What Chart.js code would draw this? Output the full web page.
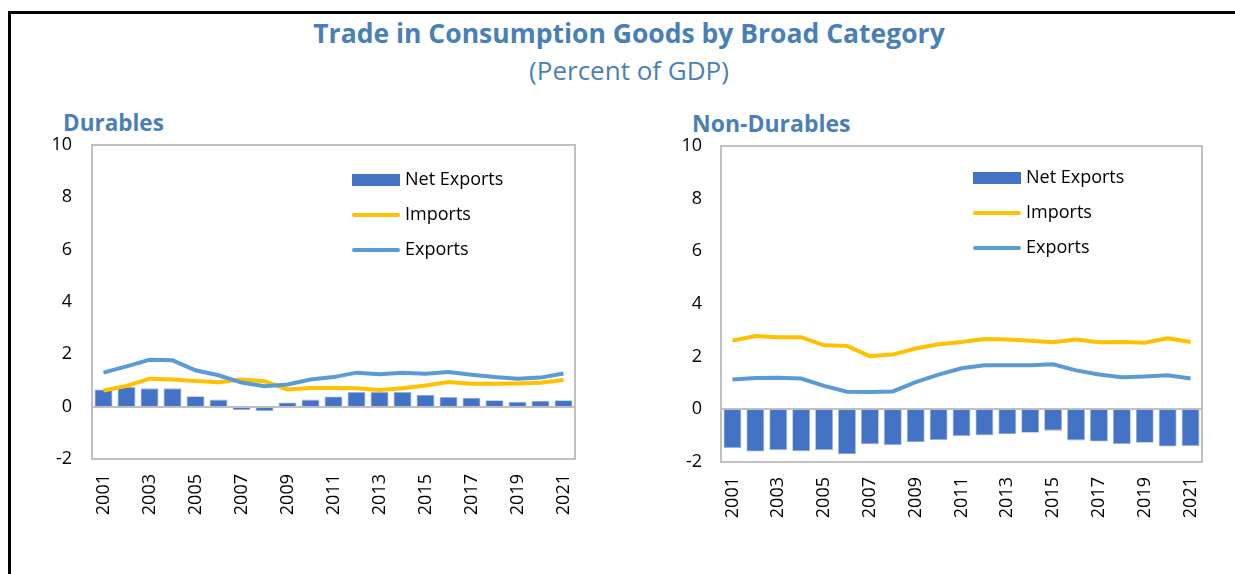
<!DOCTYPE html>
<html>
<head>
<meta charset="utf-8">
<script src="https://cdn.jsdelivr.net/npm/chart.js@4/dist/chart.umd.min.js"></script>
<style>
  body { margin:0; background:#fff; width:1235px; height:574px; overflow:hidden; position:relative; font-family:"Open Sans", sans-serif; }
  #frameTop { position:absolute; left:8px; top:11px; width:1227px; height:3px; background:#000; }
  #frameLeft { position:absolute; left:8px; top:11px; width:3px; height:563px; background:#000; }
  .t { position:absolute; color:#4A7FB5; white-space:nowrap; line-height:1; }
  #title { left:0; width:1258px; text-align:center; top:20px; font-size:26.5px; font-weight:bold; }
  #subtitle { left:0; width:1258px; text-align:center; top:57px; font-size:26px; }
  #durT { left:63px; top:112px; font-size:22.5px; font-weight:bold; }
  #nonT { left:692px; top:112px; font-size:23px; font-weight:bold; }
  canvas { position:absolute; }
  #c1 { left:30px; top:130px; }
  #c2 { left:660px; top:130px; }
</style>
</head>
<body>
<div id="frameTop"></div>
<div id="frameLeft"></div>
<div class="t" id="title">Trade in Consumption Goods by Broad Category</div>
<div class="t" id="subtitle">(Percent of GDP)</div>
<div class="t" id="durT">Durables</div>
<div class="t" id="nonT">Non-Durables</div>
<canvas id="c1" width="560" height="400"></canvas>
<canvas id="c2" width="560" height="400"></canvas>
<script>
const years = ["2001","2002","2003","2004","2005","2006","2007","2008","2009","2010","2011","2012","2013","2014","2015","2016","2017","2018","2019","2020","2021"];
const yTicks = [-2, 0, 2, 4, 6, 8, 10];

const durNetExports = [0.66,0.75,0.70,0.70,0.40,0.27,-0.13,-0.17,0.16,0.27,0.39,0.56,0.56,0.56,0.46,0.37,0.34,0.25,0.19,0.23,0.25];
const durImports    = [0.62,0.79,1.07,1.04,0.98,0.93,1.04,0.97,0.66,0.71,0.71,0.70,0.64,0.70,0.81,0.94,0.88,0.88,0.89,0.91,1.02];
const durExports    = [1.30,1.54,1.79,1.77,1.39,1.20,0.92,0.78,0.85,1.04,1.13,1.30,1.24,1.30,1.26,1.32,1.22,1.13,1.07,1.11,1.27];

const nonNetExports = [-1.47,-1.60,-1.55,-1.59,-1.55,-1.71,-1.33,-1.36,-1.25,-1.17,-1.01,-0.99,-0.95,-0.89,-0.81,-1.18,-1.22,-1.32,-1.27,-1.41,-1.39];
const nonImports    = [2.61,2.78,2.74,2.74,2.43,2.41,2.02,2.08,2.31,2.47,2.56,2.67,2.65,2.60,2.55,2.65,2.55,2.56,2.53,2.70,2.56];
const nonExports    = [1.13,1.19,1.20,1.17,0.89,0.67,0.66,0.68,1.03,1.32,1.56,1.67,1.67,1.67,1.71,1.48,1.32,1.22,1.25,1.29,1.17];

const BAR = '#4472C4', IMP = '#FFC000', EXP = '#5B9BD5', GRID = '#BFBFBF';

const framePlugin = {
  id: 'frameBox',
  beforeDatasetsDraw(chart) {
    const {ctx, chartArea:a} = chart;
    ctx.save();
    ctx.strokeStyle = GRID; ctx.lineWidth = 2;
    ctx.strokeRect(a.left, a.top, a.right - a.left, a.bottom - a.top);
    ctx.restore();
  },
  afterDatasetsDraw(chart) {
    const {ctx, chartArea:a, scales} = chart;
    const y0 = Math.round(scales.y.getPixelForValue(0));
    ctx.save();
    ctx.strokeStyle = GRID; ctx.lineWidth = 2;
    ctx.beginPath(); ctx.moveTo(a.left, y0); ctx.lineTo(a.right, y0); ctx.stroke();
    ctx.restore();
  }
};

const legendPlugin = {
  id: 'boxLegend',
  afterDraw(chart, args, opts) {
    const {ctx, chartArea:a} = chart;
    ctx.save();
    ctx.font = '18px "Open Sans", sans-serif';
    ctx.textBaseline = 'middle';
    ctx.textAlign = 'left';
    [0, 1, 2].forEach((i, k) => {
      const ds = chart.data.datasets[i];
      const x = a.left + opts.dx, y = a.top + opts.dy + k * 35;
      if (ds.type === 'bar') {
        ctx.fillStyle = ds.backgroundColor;
        ctx.fillRect(x, y - 6, 48, 12);
      } else {
        ctx.strokeStyle = ds.borderColor; ctx.lineWidth = 4; ctx.lineCap = 'round';
        ctx.beginPath(); ctx.moveTo(x + 2, y); ctx.lineTo(x + 46, y); ctx.stroke();
      }
      ctx.fillStyle = '#000';
      ctx.fillText(ds.label, x + 53, y);
    });
    ctx.restore();
  }
};

function makeChart(id, net, imp, exp, cfg) {
  const ch = new Chart(document.getElementById(id), {
    data: {
      labels: years,
      datasets: [
        { type:'bar', label:'Net Exports', data:net, backgroundColor:BAR, borderColor:'#9DB5E0', borderWidth:0.8, barPercentage:0.78, categoryPercentage:1, order:3 },
        { type:'line', label:'Imports', data:imp, borderColor:IMP, backgroundColor:IMP, borderWidth:4, pointRadius:0, tension:0, order:2 },
        { type:'line', label:'Exports', data:exp, borderColor:EXP, backgroundColor:EXP, borderWidth:4, pointRadius:0, tension:0, order:1 }
      ]
    },
    options: {
      responsive:false, animation:false,
      layout:{ padding:{ left:0, top:cfg.area.top, right:560 - cfg.area.right, bottom:0 } },
      plugins:{ legend:{display:false}, tooltip:{enabled:false}, boxLegend:{ dx:cfg.legDx, dy:cfg.legDy } },
      scales:{
        x:{
          grid:{display:true, drawOnChartArea:false, drawTicks:true, tickLength:15, color:'rgba(0,0,0,0)'}, border:{display:false},
          ticks:{ autoSkip:false, maxRotation:90, minRotation:90, padding:0, color:'#000',
                  font:{family:'"Open Sans", sans-serif', size:18},
                  callback(v, i){ return i % 2 === 0 ? years[i] : ''; } },
          afterFit(s){ s.height = cfg.xh; }
        },
        y:{
          min:-2, max:10,
          grid:{display:true, drawOnChartArea:false, drawTicks:true, tickLength:cfg.yPad, color:'rgba(0,0,0,0)'}, border:{display:false},
          afterBuildTicks(s){ s.ticks = yTicks.map(v => ({value:v})); },
          ticks:{ padding:0, color:'#000', font:{family:'"Open Sans", sans-serif', size:18} },
          afterFit(s){ s.width = cfg.yw; }
        }
      }
    },
    plugins:[framePlugin, legendPlugin]
  });
  // pin the plot area to the target box (canvas coordinates)
  const t = cfg.area, p = ch.options.layout.padding;
  for (let k = 0; k < 3; k++) {
    const a = ch.chartArea;
    p.top += t.top - a.top;
    p.left += t.left - a.left;
    p.right += a.right - t.right;
    p.bottom += a.bottom - t.bottom;
    ch.update();
  }
  return ch;
}

makeChart('c1', durNetExports, durImports, durExports, { xh:60, yw:62, yPad:20, legDx:260, legDy:35,
  area:{ left:62, top:15, right:545, bottom:329 } });
makeChart('c2', nonNetExports, nonImports, nonExports, { xh:60, yw:61, yPad:19, legDx:252, legDy:32,
  area:{ left:61, top:16, right:542, bottom:332 } });
</script>
</body>
</html>
